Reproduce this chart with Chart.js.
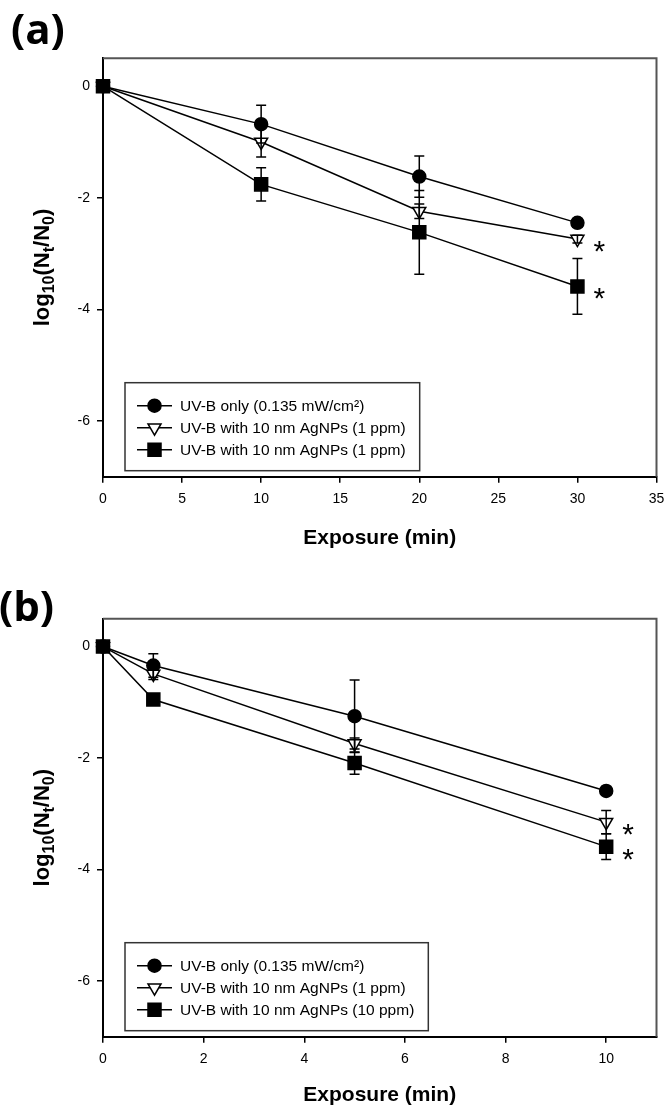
<!DOCTYPE html>
<html>
<head>
<meta charset="utf-8">
<script src="https://cdn.jsdelivr.net/npm/chart.js@4.4.1/dist/chart.umd.min.js"></script>
<style>
  body { margin: 0; background: #fff; }
  .panel { position: absolute; left: 0; width: 669px; }
</style>
</head>
<body>
<div class="panel" style="top:0;height:556px"><canvas id="chartA" width="669" height="556"></canvas></div>
<div class="panel" style="top:556px;height:557px"><canvas id="chartB" width="669" height="557"></canvas></div>
<script>
// ---- data ----
const legendA = ["UV-B only (0.135 mW/cm²)", "UV-B with 10 nm AgNPs (1 ppm)", "UV-B with 10 nm AgNPs (1 ppm)"];
const legendB = ["UV-B only (0.135 mW/cm²)", "UV-B with 10 nm AgNPs (1 ppm)", "UV-B with 10 nm AgNPs (10 ppm)"];

const timeA = [0, 10, 20, 30];
const uvOnlyA = [0, -0.68, -1.62, -2.45];
const uvOnlyErrA = [0, 0.34, 0.37, 0.08];
const agLowA = [0, -1.0, -2.24, -2.74];
const agLowErrA = [0, 0.27, 0.13, 0.07];
const agHighA = [0, -1.76, -2.62, -3.59];
const agHighErrA = [0, 0.3, 0.75, 0.5];

const timeB = [0, 1, 5, 10];
const uvOnlyB = [0, -0.34, -1.25, -2.59];
const uvOnlyErrB = [0, 0.21, 0.65, 0.08];
const agLowB = [0, -0.49, -1.74, -3.15];
const agLowErrB = [0, 0.1, 0.1, 0.21];
const agHighB = [0, -0.95, -2.09, -3.59];
const agHighErrB = [0, 0.05, 0.2, 0.23];

// asterisk after the last point of a series
const significant = [false, true, true];

const yTicks = [0, -2, -4, -6];
const xTicksA = [0, 5, 10, 15, 20, 25, 30, 35];
const xTicksB = [0, 2, 4, 6, 8, 10];
const xTitle = "Exposure (min)";
const yTitleParts = [["log", false], ["10", true], ["(N", false], ["t", true], ["/N", false], ["0", true], [")", false]];

const FONT = "'Liberation Sans', Arial, sans-serif";

const markers = [
  { pointStyle: "circle", radius: 6.5, rotation: 0, fill: "#000" },
  { pointStyle: "triangle", radius: 7.5, rotation: 180, fill: "#fff" },
  { pointStyle: "rect", radius: 9.2, rotation: 0, fill: "#000" },
];

const decor = {
  id: "decor",
  afterDatasetsDraw(chart, args, opts) {
    const ctx = chart.ctx;
    const ys = chart.scales.y;
    ctx.save();
    ctx.strokeStyle = "#000";
    ctx.lineWidth = 1.5;
    opts.errors.forEach((errs, i) => {
      const meta = chart.getDatasetMeta(i);
      meta.data.forEach((pt, j) => {
        const e = errs[j];
        if (!e) return;
        const v = chart.data.datasets[i].data[j].y;
        const y1 = ys.getPixelForValue(v + e);
        const y2 = ys.getPixelForValue(v - e);
        ctx.beginPath();
        ctx.moveTo(pt.x, y1); ctx.lineTo(pt.x, y2);
        ctx.moveTo(pt.x - 5, y1); ctx.lineTo(pt.x + 5, y1);
        ctx.moveTo(pt.x - 5, y2); ctx.lineTo(pt.x + 5, y2);
        ctx.stroke();
      });
    });
    // asterisks
    ctx.fillStyle = "#000";
    ctx.font = "30px " + FONT;
    ctx.textAlign = "center";
    ctx.textBaseline = "alphabetic";
    significant.forEach((s, i) => {
      if (!s) return;
      const data = chart.getDatasetMeta(i).data;
      const last = data[data.length - 1];
      ctx.fillText("*", last.x + 22, last.y + 22);
    });
    ctx.restore();
  },
  afterDraw(chart, args, opts) {
    const ctx = chart.ctx;
    const { left, right, top, bottom } = chart.chartArea;
    ctx.save();
    // top and right frame
    ctx.strokeStyle = "#555";
    ctx.lineWidth = 2;
    ctx.beginPath();
    ctx.moveTo(left, top); ctx.lineTo(right, top); ctx.lineTo(right, bottom);
    ctx.stroke();

    // panel label
    ctx.fillStyle = "#000";
    ctx.font = "bold 42px 'Open Sans', sans-serif";
    ctx.textAlign = "left";
    ctx.textBaseline = "alphabetic";
    ctx.fillText(opts.label, opts.labelX, opts.labelY);

    // y title with subscripts
    ctx.save();
    ctx.translate(49, (top + bottom) / 2);
    ctx.rotate(-Math.PI / 2);
    const mainF = "bold 22px " + FONT, subF = "bold 16px " + FONT;
    let total = 0;
    yTitleParts.forEach(([t, sub]) => { ctx.font = sub ? subF : mainF; total += ctx.measureText(t).width; });
    let x = -total / 2;
    yTitleParts.forEach(([t, sub]) => {
      ctx.font = sub ? subF : mainF;
      ctx.fillText(t, x, sub ? 5 : 0);
      x += ctx.measureText(t).width;
    });
    ctx.restore();

    // legend box
    ctx.font = "15.5px " + FONT;
    let maxW = 0;
    opts.legend.forEach(l => { maxW = Math.max(maxW, ctx.measureText(l).width); });
    const bx = 125, bh = 88, by = bottom - 6 - bh;
    const bw = 180 - bx + maxW + 14;
    ctx.fillStyle = "#fff";
    ctx.fillRect(bx, by, bw, bh);
    ctx.strokeStyle = "#333";
    ctx.lineWidth = 1.5;
    ctx.strokeRect(bx, by, bw, bh);
    opts.legend.forEach((l, i) => {
      const ry = by + 23 + i * 22;
      ctx.strokeStyle = "#000";
      ctx.lineWidth = 1.5;
      ctx.beginPath(); ctx.moveTo(137, ry); ctx.lineTo(172, ry); ctx.stroke();
      const m = markers[i];
      ctx.fillStyle = m.fill;
      Chart.helpers.drawPoint(ctx, { pointStyle: m.pointStyle, rotation: m.rotation, radius: m.radius, borderWidth: 1.5 }, 154.5, ry);
      ctx.fillStyle = "#000";
      ctx.textBaseline = "middle";
      ctx.fillText(l, 180, ry + 1);
    });
    ctx.restore();
  },
};

function makeChart(id, p) {
  const series = [p.uvOnly, p.agLow, p.agHigh];
  const datasets = series.map((vals, i) => ({
    data: p.time.map((t, j) => ({ x: t, y: vals[j] })),
    borderColor: "#000",
    borderWidth: 1.5,
    tension: 0,
    pointStyle: markers[i].pointStyle,
    pointRotation: markers[i].rotation,
    pointRadius: markers[i].radius,
    pointBackgroundColor: markers[i].fill,
    pointBorderColor: "#000",
    pointBorderWidth: 1.5,
    clip: false,
    order: 3 - i,
  }));

  new Chart(document.getElementById(id), {
    type: "line",
    data: { datasets },
    plugins: [decor],
    options: {
      responsive: false,
      animation: false,
      events: [],
      layout: { padding: { left: 0, right: 12.5, top: p.top, bottom: 0 } },
      plugins: {
        legend: { display: false },
        tooltip: { enabled: false },
        decor: { label: p.label, labelX: p.labelX, labelY: p.labelY, legend: p.legend, errors: p.errors },
      },
      scales: {
        x: {
          type: "linear",
          min: 0,
          max: p.xMax,
          afterBuildTicks: a => { a.ticks = p.xTicks.map(v => ({ value: v })); },
          afterFit: a => { a.height = p.xAxisH; a.paddingLeft = 0; a.paddingRight = 0; },
          grid: { drawOnChartArea: false, drawTicks: true, tickLength: 6, color: "#000", lineWidth: 1.5 },
          border: { color: "#000", width: 2 },
          ticks: { color: "#000", font: { family: FONT, size: 14 }, padding: 8.5, maxRotation: 0, autoSkip: false },
          title: { display: true, text: xTitle, color: "#000", font: { family: FONT, size: 21, weight: "bold" }, padding: { top: 0, bottom: 5 } },
        },
        y: {
          type: "linear",
          min: -7,
          max: 0.5,
          afterBuildTicks: a => { a.ticks = yTicks.map(v => ({ value: v })); },
          afterFit: a => { a.width = 103; a.paddingTop = 0; a.paddingBottom = 0; },
          grid: { drawOnChartArea: false, drawTicks: true, tickLength: 6, color: "#000", lineWidth: 1.5 },
          border: { color: "#000", width: 2 },
          ticks: { color: "#000", font: { family: FONT, size: 14 }, padding: 7 },
        },
      },
    },
  });
}

makeChart("chartA", {
  label: "(a)", labelX: 11, labelY: 44, legend: legendA, time: timeA, xMax: 35, xTicks: xTicksA,
  uvOnly: uvOnlyA, agLow: agLowA, agHigh: agHighA,
  errors: [uvOnlyErrA, agLowErrA, agHighErrA],
  top: 58.3, xAxisH: 556 - 476.7,
});
makeChart("chartB", {
  label: "(b)", labelX: -1, labelY: 65, legend: legendB, time: timeB, xMax: 11, xTicks: xTicksB,
  uvOnly: uvOnlyB, agLow: agLowB, agHigh: agHighB,
  errors: [uvOnlyErrB, agLowErrB, agHighErrB],
  top: 62.7, xAxisH: 557 - 480.7,
});
</script>
</body>
</html>
